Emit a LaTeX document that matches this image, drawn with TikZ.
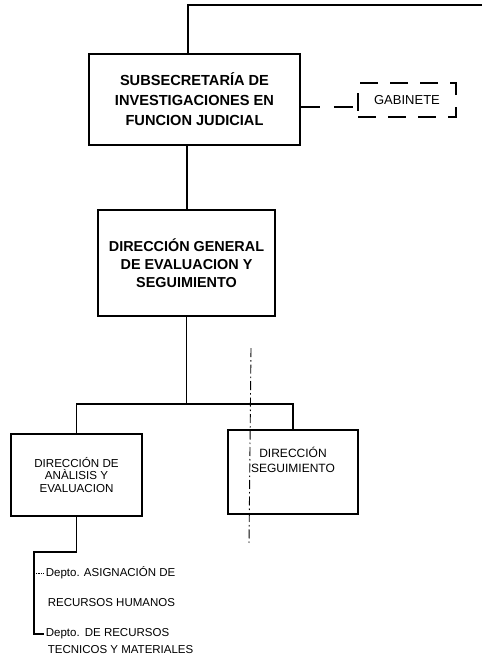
\documentclass[tikz,border=0pt]{standalone}
\usepackage{fontspec}
\setmainfont{Liberation Sans}
\usepackage{xcolor}
\usetikzlibrary{arrows,shapes,positioning}

\begin{document}
\begin{tikzpicture}[x=1pt,y=-1pt,line width=1.7pt]
    \useasboundingbox (0,0) rectangle (482,659);
    \tikzstyle{format}=[rectangle,draw,line width=1.9pt,fill=white,align=center,inner sep=2pt]  % 方框
    \tikzstyle{gabfmt}=[rectangle,draw,line width=1.9pt,dash pattern=on 18pt off 12pt,inner sep=2pt]  % 虚线方框
    \tikzstyle{depto}=[inner sep=1pt,anchor=west,font=\fontsize{11.5}{13}\selectfont]  % 部门文字
    \tikzstyle{point}=[coordinate]  % 连接点

    % 定义node
    \node[format,minimum width=211pt,minimum height=91pt,font=\bfseries\fontsize{14.6}{20}\selectfont]
        (subsec) at (194.5,99.5) {SUBSECRETARÍA DE\\INVESTIGACIONES EN\\FUNCION JUDICIAL};
    \node[gabfmt,minimum width=98pt,minimum height=34pt,font=\fontsize{13}{15}\selectfont]
        (gab) at (407,100) {GABINETE};
    \node[format,minimum width=177pt,minimum height=106pt,font=\bfseries\fontsize{14.4}{18}\selectfont]
        (dirgen) at (186.5,263) {DIRECCIÓN GENERAL\\DE EVALUACION Y\\SEGUIMIENTO};
    \node[format,minimum width=131pt,minimum height=82pt,font=\fontsize{11.6}{12.5}\selectfont]
        (dirana) at (76.5,475) {DIRECCIÓN DE\\ANÀLISIS Y\\EVALUACION};
    \node[format,minimum width=130pt,minimum height=84pt,
        label={[align=center,yshift=12pt,font=\fontsize{12}{15}\selectfont]center:DIRECCIÓN\\SEGUIMIENTO}]
        (dirseg) at (293,472) {};
    \node[depto] (asig) at (44,573) {Depto. ASIGNACIÓN DE};
    \node[depto] (rrhh) at (46,603) {RECURSOS HUMANOS};
    \node[depto] (recur) at (44,634) {Depto.\ \,DE RECURSOS};
    \node[depto] (tecmat) at (46,650) {TECNICOS Y MATERIALES};

    \node[point] (topl) at (188,5) {};
    \node[point] (topr) at (482,5) {};
    \node[point] (gabln) at (0,107) {};
    \node[point] (vcol) at (187,0) {};
    \node[point] (bus) at (0,404) {};
    \node[point] (rail) at (34,552) {};

    % 开始画线
    \draw (subsec.north -| topl) -- (topl) -- (topr);
    \draw[dash pattern=on 19pt off 14pt] (subsec.east |- gabln) -- (gab.west |- gabln);
    \draw (subsec.south -| vcol) -- (dirgen.north -| vcol);
    \draw (dirgen.south) -- (dirgen.south |- bus);
    \draw (dirana.north) -- (dirana.north |- bus) -- (dirseg.north |- bus) -- (dirseg.north);
    \draw (dirana.south) |- (rail) -- (rail |- recur) -- (recur.west);
    \draw[line width=0.8pt,densely dotted] (rail |- asig) -- (asig.west);
    \draw[line width=0.9pt,dash pattern=on 9pt off 3pt on 1.5pt off 3pt] (251,348) -- (249,545);
\end{tikzpicture}
\end{document}
